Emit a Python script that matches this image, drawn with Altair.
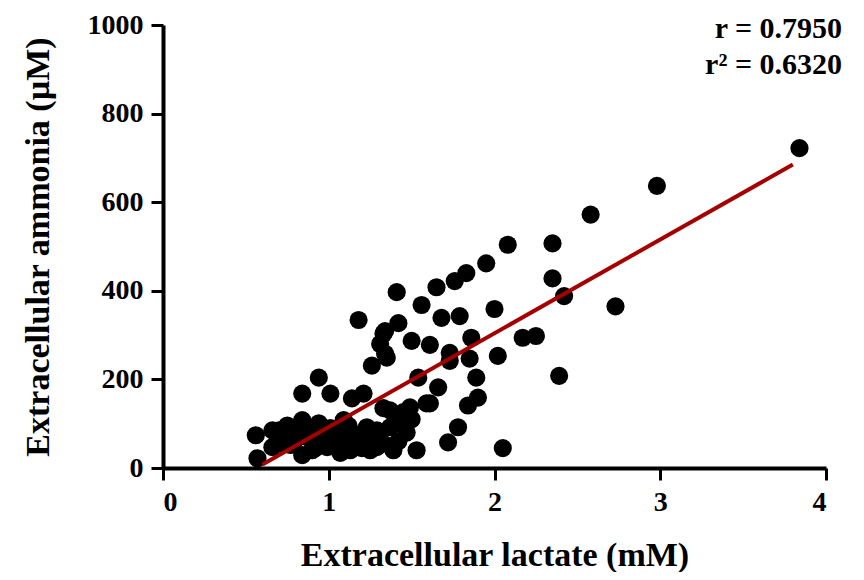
import altair as alt
import pandas as pd

# Scatter data
lactate = [3.84, 2.98, 2.58, 2.35, 2.08, 2.35, 2.42, 2.73, 2.39, 2.17, 2.25,
           1.95, 1.83, 1.76, 1.65, 1.41, 1.56, 2.00, 1.68, 1.79, 1.42, 1.33,
           1.18, 1.31, 1.50, 1.61, 1.86, 2.02, 1.85, 1.73, 1.35, 1.26, 1.89,
           1.54, 1.66, 1.90, 1.84, 0.94, 0.84, 1.01, 1.14, 1.21, 1.37, 1.49,
           1.59, 1.45, 1.78, 1.72, 2.05, 1.53, 1.33, 1.29, 1.37, 1.45, 1.29,
           1.39, 1.23, 1.30, 1.25, 1.15, 1.07, 0.99, 0.90, 0.84, 0.77, 0.66,
           0.66, 0.75, 0.84, 0.94, 1.01, 1.09, 0.87, 0.56, 0.57, 0.70, 0.80,
           1.05, 1.18, 1.12, 0.95, 1.34, 1.34, 1.73, 1.61,
           0.70, 0.72, 0.80, 0.88, 0.92, 0.97, 1.04, 1.10, 1.13, 1.20, 1.22,
           1.33, 1.42, 1.47, 1.50, 1.40]
ammonia = [722, 637, 572, 507, 504, 428, 388, 365, 208, 294, 298,
           462, 440, 422, 408, 397, 368, 359, 339, 343, 327, 303,
           334, 280, 287, 278, 294, 253, 247, 242, 249, 231, 204,
           204, 182, 159, 141, 204, 168, 168, 157, 168, 130, 137,
           146, 126, 92, 58, 45, 40, 135, 85, 92, 101, 47,
           40, 92, 70, 40, 56, 34, 47, 40, 29, 52, 47,
           85, 96, 108, 101, 90, 108, 70, 74, 22, 70, 80,
           60, 75, 95, 60, 309, 258, 260, 146,
           85, 55, 65, 90, 45, 75, 55, 80, 40, 45, 70,
           55, 60, 80, 110, 120]

# Regression line endpoints
fit_x = [0.60, 3.80]
fit_y = [8, 685]

stats_text = ["r = 0.7950", "r\u00b2 = 0.6320"]

x_ticks = [0, 1, 2, 3, 4]
y_ticks = [0, 200, 400, 600, 800, 1000]

pts = pd.DataFrame({"lactate": lactate, "ammonia": ammonia})
fit = pd.DataFrame({"lactate": fit_x, "ammonia": fit_y})

FONT = "Liberation Serif"

xs = alt.Scale(domain=[0, 4], nice=False)
ys = alt.Scale(domain=[0, 1000], nice=False)

x_axis = alt.Axis(values=x_ticks, title="Extracellular lactate (mM)", titlePadding=22,
                  labelPadding=8, format="d")
y_axis = alt.Axis(values=y_ticks, title="Extracellular ammonia (\u00b5M)", titlePadding=32,
                  labelPadding=8, format="d")

points = alt.Chart(pts).mark_circle(size=330, color="black", opacity=1).encode(
    x=alt.X("lactate:Q", scale=xs, axis=x_axis),
    y=alt.Y("ammonia:Q", scale=ys, axis=y_axis),
)

line = alt.Chart(fit).mark_line(color="#A50000", strokeWidth=4).encode(
    x=alt.X("lactate:Q", scale=xs),
    y=alt.Y("ammonia:Q", scale=ys),
)

t1 = alt.Chart(pd.DataFrame({"t": [stats_text[0]]})).mark_text(
    align="right", baseline="alphabetic", font=FONT, fontWeight="bold", fontSize=30, color="black"
).encode(text="t:N", x=alt.value(679), y=alt.value(13))
t2 = alt.Chart(pd.DataFrame({"t": [stats_text[1]]})).mark_text(
    align="right", baseline="alphabetic", font=FONT, fontWeight="bold", fontSize=30, color="black"
).encode(text="t:N", x=alt.value(679), y=alt.value(49))

chart = alt.layer(points, line, t1, t2).properties(
    width=663, height=443,
    background="white",
    autosize=alt.AutoSizeParams(type="none"),
    padding={"left": 155, "top": 17, "right": 30, "bottom": 104},
).configure_view(stroke=None).configure_axis(
    grid=False,
    domainColor="black", domainWidth=4,
    tickColor="black", tickWidth=3, tickSize=12,
    labelFont=FONT, labelFontWeight="bold", labelFontSize=28, labelColor="black",
    titleFont=FONT, titleFontWeight="bold", titleFontSize=34, titleColor="black",
)

chart.save("out.html", embed_options={"renderer": "svg", "actions": False})
